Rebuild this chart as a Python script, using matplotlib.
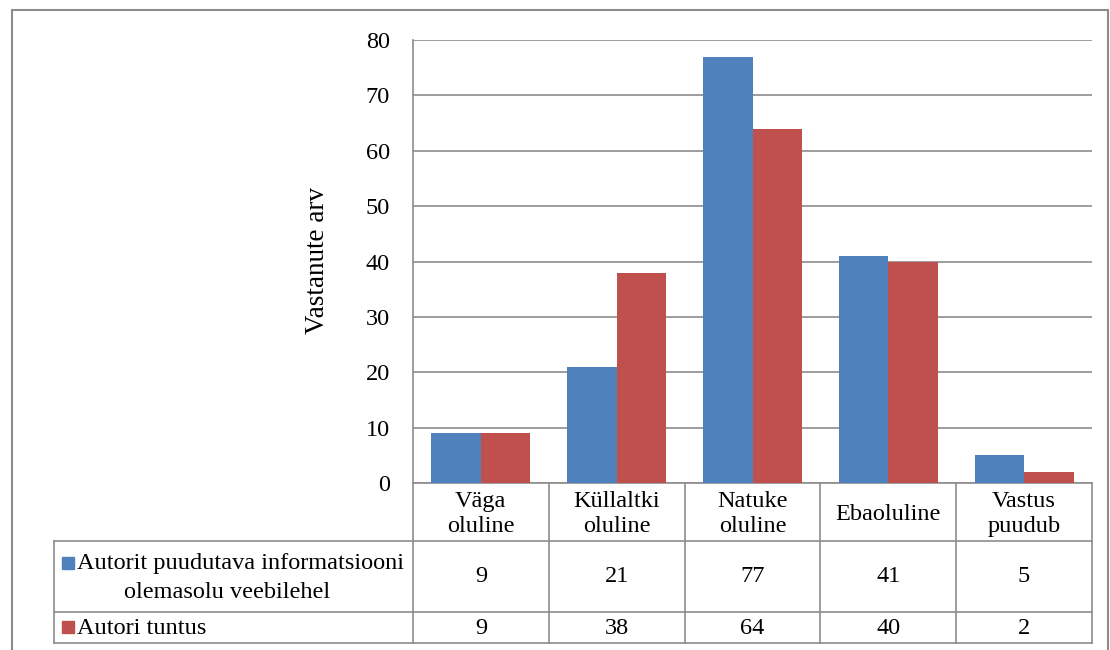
import matplotlib.pyplot as plt
from matplotlib.patches import Rectangle
from matplotlib.lines import Line2D

plt.rcParams['font.family'] = ['Liberation Serif', 'DejaVu Serif']

categories = ['Väga\noluline', 'Küllaltki\noluline', 'Natuke\noluline', 'Ebaoluline', 'Vastus\npuudub']
series_names = ['Autorit puudutava informatsiooni\nolemasolu veebilehel', 'Autori tuntus']
info_present = [9, 21, 77, 41, 5]
author_known = [9, 38, 64, 40, 2]
colors = ['#4F81BD', '#C0504D']
grid_c = '#8C8C8C'
W, H = 1110, 650
fs = 17.5

fig = plt.figure(figsize=(W / 100, H / 100), dpi=100)
ax = fig.add_axes([413 / W, (H - 483) / H, (1092 - 413) / W, (483 - 40) / H])

n = len(categories)
x = list(range(n))
bw = 0.364
ax.bar([i - bw / 2 for i in x], info_present, bw, color=colors[0], zorder=3)
ax.bar([i + bw / 2 for i in x], author_known, bw, color=colors[1], zorder=3)

ax.set_xlim(-0.5, n - 0.5)
ax.set_ylim(0, 80)
ax.set_yticks(range(0, 81, 10))
ax.tick_params(axis='y', length=0, labelsize=fs, pad=16.5)
ax.set_xticks([])
ax.yaxis.grid(True, color=grid_c, lw=1.2, zorder=0)
for s in ['top', 'right', 'bottom']:
    ax.spines[s].set_visible(False)
ax.spines['left'].set_color(grid_c)
ax.spines['left'].set_linewidth(1.2)


def fx(px):
    return px / W


def fy(py):
    return (H - py) / H


fig.text(fx(317), fy(260), 'Vastanute arv', rotation=90, ha='center', va='center', fontsize=19.5)

# data table below the axes
def ay(ypx):
    return (483 - ypx) / 443


tr = ax.get_xaxis_transform()
left_x = -0.5 - (413 - 53) / 136
rows = [483, 541, 612, 643]
kw = dict(color=grid_c, lw=1.2, clip_on=False, transform=tr)
ax.add_line(Line2D([-0.5, n - 0.5], [ay(rows[0])] * 2, **kw))
for r in rows[1:]:
    ax.add_line(Line2D([left_x, n - 0.5], [ay(r)] * 2, **kw))
for i in range(n + 1):
    ax.add_line(Line2D([i - 0.5] * 2, [ay(rows[0]), ay(rows[-1])], **kw))
ax.add_line(Line2D([left_x] * 2, [ay(rows[1]), ay(rows[-1])], **kw))

for i, cat in enumerate(categories):
    ax.text(i, ay(514), cat, transform=tr, ha='center', va='center', fontsize=fs, linespacing=1.22)
    ax.text(i, ay(576.5), str(info_present[i]), transform=tr, ha='center', va='center', fontsize=fs)
    ax.text(i, ay(628), str(author_known[i]), transform=tr, ha='center', va='center', fontsize=fs)

# legend keys in the table's first column
for c, ymid in zip(colors, [562.5, 627]):
    fig.patches.append(Rectangle((fx(62), fy(ymid + 6)), 12 / W, 12 / H, color=c, transform=fig.transFigure))
line1, line2 = series_names[0].split('\n')
fig.text(fx(77), fy(564), line1, ha='left', va='center', fontsize=fs)
fig.text(fx(227), fy(593), line2, ha='center', va='center', fontsize=fs)
fig.text(fx(77), fy(628), series_names[1], ha='left', va='center', fontsize=fs)

# outer chart border
fig.patches.append(Rectangle((fx(12), -0.05), (1108 - 12) / W, fy(10) + 0.05, fill=False,
                             ec=grid_c, lw=1.5, transform=fig.transFigure))

fig.savefig('out.png', dpi=100)
